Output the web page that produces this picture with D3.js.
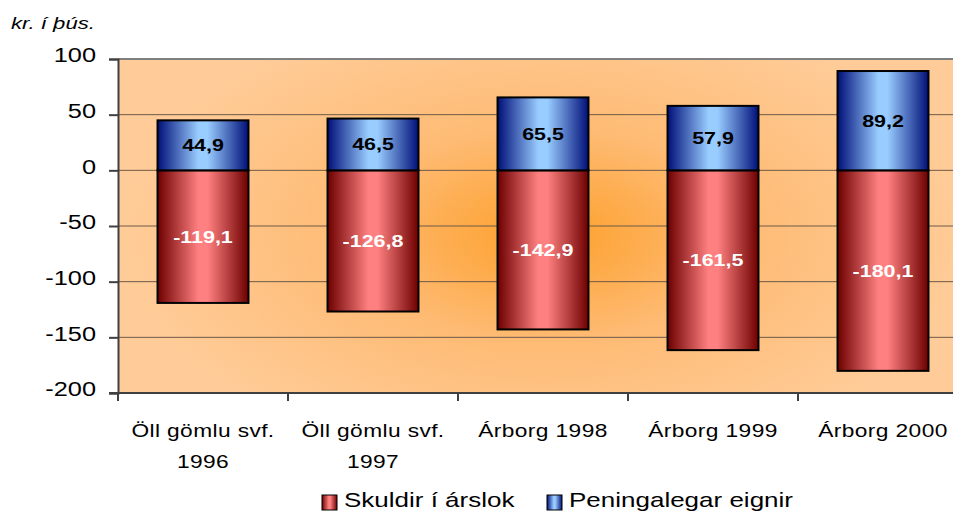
<!DOCTYPE html>
<html>
<head>
<meta charset="utf-8">
<script src="https://cdn.jsdelivr.net/npm/d3@7"></script>
<style>
  body { margin: 0; background: #fff; }
  text { font-family: "Liberation Sans", Arial, sans-serif; }
</style>
</head>
<body>
<div id="chart"></div>
<script>
// data
var categories = [["Öll gömlu svf.", "1996"], ["Öll gömlu svf.", "1997"], ["Árborg 1998"], ["Árborg 1999"], ["Árborg 2000"]];
var skuldir = [-119.1, -126.8, -142.9, -161.5, -180.1];
var eignir = [44.9, 46.5, 65.5, 57.9, 89.2];
var yTicks = [100, 50, 0, -50, -100, -150, -200];
var seriesNames = ["Skuldir í árslok", "Peningalegar eignir"];

var width = 953;
var height = 511;
var plot = {'left': 118, 'top': 59, 'right': 968, 'bottom': 393};
// the original picture is stretched sideways, so every text is too
var stretch = 1.3;

var svg = d3.select('#chart')
    .append('svg')
    .attr('width', width)
    .attr('height', height);

var defs = svg.append('defs');

// background glow
var bg = defs.append('radialGradient')
    .attr('id', 'bgGlow')
    .attr('gradientUnits', 'userSpaceOnUse')
    .attr('cx', 545).attr('cy', 235)
    .attr('r', 430)
    .attr('gradientTransform', 'translate(545,235) scale(1,0.55) translate(-545,-235)');
bg.append('stop').attr('offset', '0').attr('stop-color', '#FD9F2A');
bg.append('stop').attr('offset', '0.45').attr('stop-color', '#FEBB74');
bg.append('stop').attr('offset', '1').attr('stop-color', '#FFCC99');

function barGradient(id, dark, light){
    var g = defs.append('linearGradient')
        .attr('id', id)
        .attr('x1', '0').attr('x2', '1').attr('y1', '0').attr('y2', '0');
    g.append('stop').attr('offset', '0').attr('stop-color', dark);
    g.append('stop').attr('offset', '0.45').attr('stop-color', light);
    g.append('stop').attr('offset', '0.55').attr('stop-color', light);
    g.append('stop').attr('offset', '1').attr('stop-color', dark);
}
barGradient('redBar', '#6E0000', '#FF8080');
barGradient('blueBar', '#000F78', '#99CCFF');

var x = d3.scaleBand()
    .domain(d3.range(categories.length))
    .range([plot.left, plot.right])
    .paddingInner(0.465)
    .paddingOuter(0.2325);

var y = d3.scaleLinear()
    .domain([-200, 100])
    .range([plot.bottom, plot.top]);

// text placed at (px, py), stretched sideways around its anchor
function putText(parent, px, py, str){
    return parent.append('text')
        .attr('transform', 'translate(' + px + ',' + py + ') scale(' + stretch + ',1)')
        .text(str);
}

// plot area
svg.append('rect')
    .attr('x', plot.left)
    .attr('y', plot.top)
    .attr('width', plot.right - plot.left)
    .attr('height', plot.bottom - plot.top)
    .style('fill', 'url(#bgGlow)');

svg.append('line')
    .attr('x1', plot.left).attr('x2', plot.right)
    .attr('y1', plot.top).attr('y2', plot.top)
    .style('stroke', '#808080')
    .style('stroke-width', 2);

// gridlines
svg.append('g')
    .selectAll('line')
    .data(yTicks.filter(function(d){ return d !== -200 && d !== 100; }))
    .enter().append('line')
    .attr('x1', plot.left).attr('x2', plot.right)
    .attr('y1', function(d){ return y(d); })
    .attr('y2', function(d){ return y(d); })
    .style('stroke', '#6E5A48')
    .style('stroke-width', 1);

// bars
var barGroup = svg.append('g');
barGroup.selectAll('.neg')
    .data(skuldir)
    .enter().append('rect')
    .attr('class', 'neg')
    .attr('x', function(d, i){ return x(i); })
    .attr('y', y(0))
    .attr('width', x.bandwidth())
    .attr('height', function(d){ return y(d) - y(0); })
    .style('fill', 'url(#redBar)')
    .style('stroke', '#000')
    .style('stroke-width', 2);

barGroup.selectAll('.pos')
    .data(eignir)
    .enter().append('rect')
    .attr('class', 'pos')
    .attr('x', function(d, i){ return x(i); })
    .attr('y', function(d){ return y(d); })
    .attr('width', x.bandwidth())
    .attr('height', function(d){ return y(0) - y(d); })
    .style('fill', 'url(#blueBar)')
    .style('stroke', '#000')
    .style('stroke-width', 2);

function fmt(v){ return v.toFixed(1).replace('.', ','); }

// value labels
skuldir.forEach(function(d, i){
    putText(barGroup, x(i) + x.bandwidth() / 2, (y(d) + y(0)) / 2 + 6, fmt(d))
        .attr('text-anchor', 'middle')
        .style('font-size', '16.5px')
        .style('font-weight', 'bold')
        .style('fill', '#fff');
});
eignir.forEach(function(d, i){
    putText(barGroup, x(i) + x.bandwidth() / 2, (y(d) + y(0)) / 2 + 6, fmt(d))
        .attr('text-anchor', 'middle')
        .style('font-size', '16.5px')
        .style('font-weight', 'bold')
        .style('fill', '#000');
});

// y axis
var yAxis = svg.append('g')
    .attr('transform', 'translate(' + plot.left + ',0)')
    .call(d3.axisLeft(y).tickValues(yTicks).tickSize(9).tickFormat(function(d){ return String(d); }));
yAxis.select('.domain').style('stroke', '#404040').style('stroke-width', 2);
yAxis.selectAll('.tick line').style('stroke', '#404040').style('stroke-width', 2);
yAxis.selectAll('.tick text')
    .attr('x', -22 / stretch)
    .attr('dy', '0.15em')
    .attr('transform', 'scale(' + stretch + ',1)')
    .style('font-size', '19.5px')
    .style('font-family', '"Liberation Sans", Arial, sans-serif')
    .style('fill', '#000');

// x axis
var xAxisG = svg.append('g');
xAxisG.append('line')
    .attr('x1', plot.left - 9).attr('x2', plot.right)
    .attr('y1', plot.bottom).attr('y2', plot.bottom)
    .style('stroke', '#404040')
    .style('stroke-width', 2);
xAxisG.selectAll('.xtick')
    .data(d3.range(categories.length + 1))
    .enter().append('line')
    .attr('x1', function(i){ return plot.left + i * x.step(); })
    .attr('x2', function(i){ return plot.left + i * x.step(); })
    .attr('y1', plot.bottom)
    .attr('y2', plot.bottom + 8)
    .style('stroke', '#404040')
    .style('stroke-width', 2);

categories.forEach(function(lines, i){
    lines.forEach(function(l, k){
        putText(xAxisG, x(i) + x.bandwidth() / 2, 437 + k * 31, l)
            .attr('text-anchor', 'middle')
            .style('font-size', '17.5px')
            .style('letter-spacing', '0.3px')
            .style('fill', '#000');
    });
});

// unit label
putText(svg, 11, 29, 'kr. í þús.')
    .style('font-size', '17px')
    .style('font-style', 'italic');

// legend
var legend = svg.append('g');
var legendItems = [
    {name: seriesNames[0], fill: 'url(#redBar)', x: 322},
    {name: seriesNames[1], fill: 'url(#blueBar)', x: 547}
];
legendItems.forEach(function(item){
    legend.append('rect')
        .attr('x', item.x)
        .attr('y', 495)
        .attr('width', 15)
        .attr('height', 15)
        .style('fill', item.fill)
        .style('stroke', '#000')
        .style('stroke-width', 1);
    putText(legend, item.x + 22, 507, item.name)
        .style('font-size', '20px')
        .style('fill', '#000');
});
</script>
</body>
</html>
